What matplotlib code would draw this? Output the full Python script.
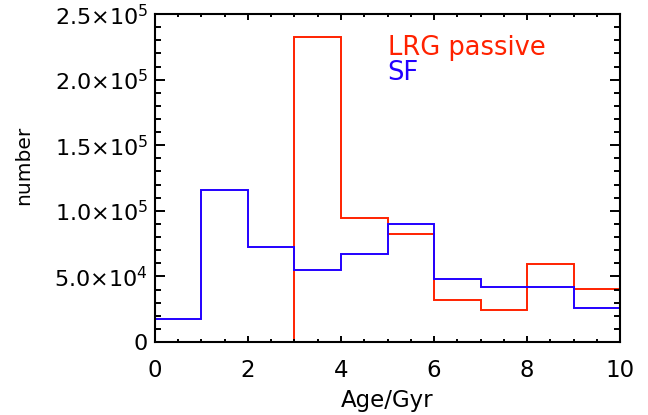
import matplotlib
matplotlib.use('Agg')
import matplotlib.pyplot as plt
from matplotlib.ticker import MultipleLocator, FixedLocator

# histogram bins (Age/Gyr) and counts
sf_edges = [0, 1, 2, 3, 4, 5, 6, 7, 8, 9, 10, 11]
sf_counts = [17300, 115800, 72400, 54600, 67100, 89700, 48000, 41900, 41900, 26100, 19000]

lrg_edges = [2.5, 3, 4, 5, 6, 7, 8, 9, 10, 11]
lrg_counts = [0, 232700, 94800, 82300, 32000, 24600, 59200, 40400, 26700]

ytick_vals = [0, 5.0e4, 1.0e5, 1.5e5, 2.0e5, 2.5e5]
ytick_labels = ['0', r'$5.0{\times}10^4$', r'$1.0{\times}10^5$', r'$1.5{\times}10^5$',
                r'$2.0{\times}10^5$', r'$2.5{\times}10^5$']

red = '#ff2200'
blue = '#2200ff'

plt.rcParams['font.family'] = ['DejaVu Sans']
plt.rcParams['mathtext.fontset'] = 'dejavusans'

fig = plt.figure(figsize=(6.48, 4.15), dpi=100)
ax = fig.add_axes([0.239, 0.176, 0.718, 0.790])

ax.stairs(lrg_counts, lrg_edges, color=red, lw=1.4, baseline=0)
ax.stairs(sf_counts, sf_edges, color=blue, lw=1.4, baseline=0)

ax.set_xlim(0, 10)
ax.set_ylim(0, 2.5e5)

ax.xaxis.set_major_locator(MultipleLocator(2))
ax.xaxis.set_minor_locator(MultipleLocator(0.5))
ax.yaxis.set_major_locator(FixedLocator(ytick_vals))
ax.yaxis.set_minor_locator(MultipleLocator(1e4))
ax.set_yticklabels(ytick_labels)

for s in ax.spines.values():
    s.set_linewidth(1.5)

ax.tick_params(which='both', direction='in', top=True, right=True, width=1.4)
ax.tick_params(axis='x', which='major', length=4.5, labelsize=16.5, pad=12)
ax.tick_params(axis='x', which='minor', length=2.5)
ax.tick_params(axis='y', which='major', length=7, labelsize=16, pad=5)
ax.tick_params(axis='y', which='minor', length=4)

ax.set_xlabel('Age/Gyr', fontsize=16.5, labelpad=5)
ax.set_ylabel('number', fontsize=14.5)
ax.yaxis.set_label_coords(-0.262, 0.54)

ax.text(5.0, 2.19e5, 'LRG passive', color=red, fontsize=18.5)
ax.text(5.0, 2.0e5, 'SF', color=blue, fontsize=18.5)

fig.savefig('out.png', dpi=100)
